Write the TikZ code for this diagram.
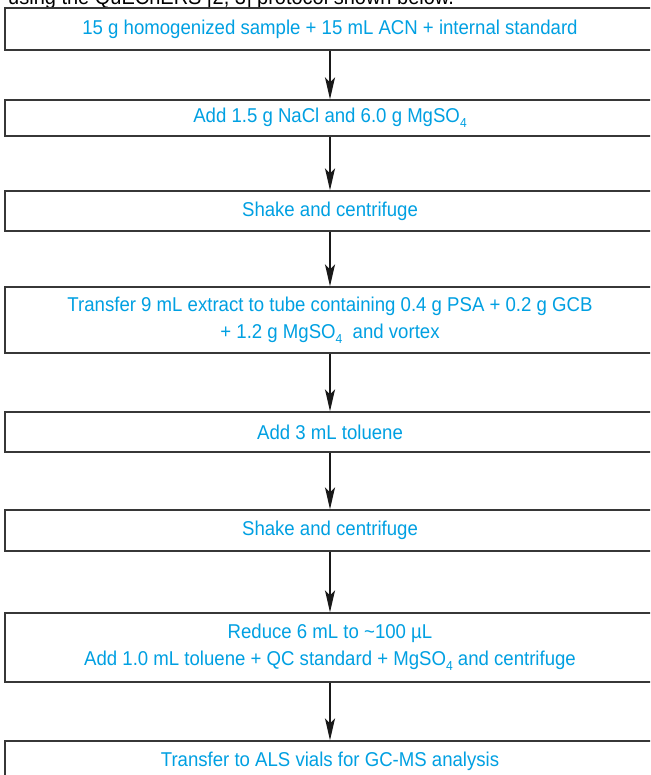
\documentclass[tikz,border=0pt]{standalone}
\usepackage{fontspec}
\setmainfont{Liberation Sans}[FakeStretch=0.93]
\usetikzlibrary{arrows.meta}
\definecolor{stepblue}{RGB}{0,160,226}
\definecolor{boxgray}{RGB}{55,55,55}
\definecolor{arrowblack}{RGB}{25,25,25}
\newcommand\lowsub[1]{\raisebox{-5pt}{\fontsize{13}{13}\selectfont #1}}
\begin{document}
\begin{tikzpicture}[x=1pt,y=-1pt,
  stepbox/.style={draw=boxgray, line width=1.3pt, fill=white, minimum width=650pt,
    inner sep=0pt, align=center, text=stepblue,
    font=\fontsize{20}{27}\selectfont},
  flowarrow/.style={draw=arrowblack, line width=2pt,
    -{Stealth[length=22pt,width=10pt,inset=5pt]}},
  introtext/.style={anchor=base west, inner sep=0pt, text=black,
    font=\fontsize{21.5}{24}\selectfont}]
\useasboundingbox (0,0) rectangle (650,775);
\clip (0,0) rectangle (650,775);
\fill[white] (0,0) rectangle (650,775);

\node[introtext] (intro) at (8,5) {using the QuEChERS [2, 3] protocol shown below.};

\node[stepbox, minimum height=42pt] (b1) at (330,29)
  {15 g homogenized sample + 15 mL ACN + internal standard};
\node[stepbox, minimum height=36pt] (b2) at (330,118)
  {Add 1.5 g NaCl and 6.0 g MgSO\lowsub{4}};
\node[stepbox, minimum height=40pt] (b3) at (330,211)
  {Shake and centrifuge};
\node[stepbox, minimum height=66pt] (b4) at (330,320)
  {Transfer 9 mL extract to tube containing 0.4 g PSA + 0.2 g GCB\\
   + 1.2 g MgSO\lowsub{4}\ \ and vortex};
\node[stepbox, minimum height=40pt] (b5) at (330,432)
  {Add 3 mL toluene};
\node[stepbox, minimum height=41pt] (b6) at (330,530.5)
  {Shake and centrifuge};
\node[stepbox, minimum height=69pt] (b7) at (330,647.5)
  {Reduce 6 mL to \textasciitilde100 µL\\
   Add 1.0 mL toluene + QC standard + MgSO\lowsub{4} and centrifuge};
\node[stepbox, minimum height=40pt] (b8) at (330,761)
  {Transfer to ALS vials for GC-MS analysis};

\draw[flowarrow] (b1.south) -- (b2.north);
\draw[flowarrow] (b2.south) -- (b3.north);
\draw[flowarrow] (b3.south) -- (b4.north);
\draw[flowarrow] (b4.south) -- (b5.north);
\draw[flowarrow] (b5.south) -- (b6.north);
\draw[flowarrow] (b6.south) -- (b7.north);
\draw[flowarrow] (b7.south) -- (b8.north);
\end{tikzpicture}
\end{document}
